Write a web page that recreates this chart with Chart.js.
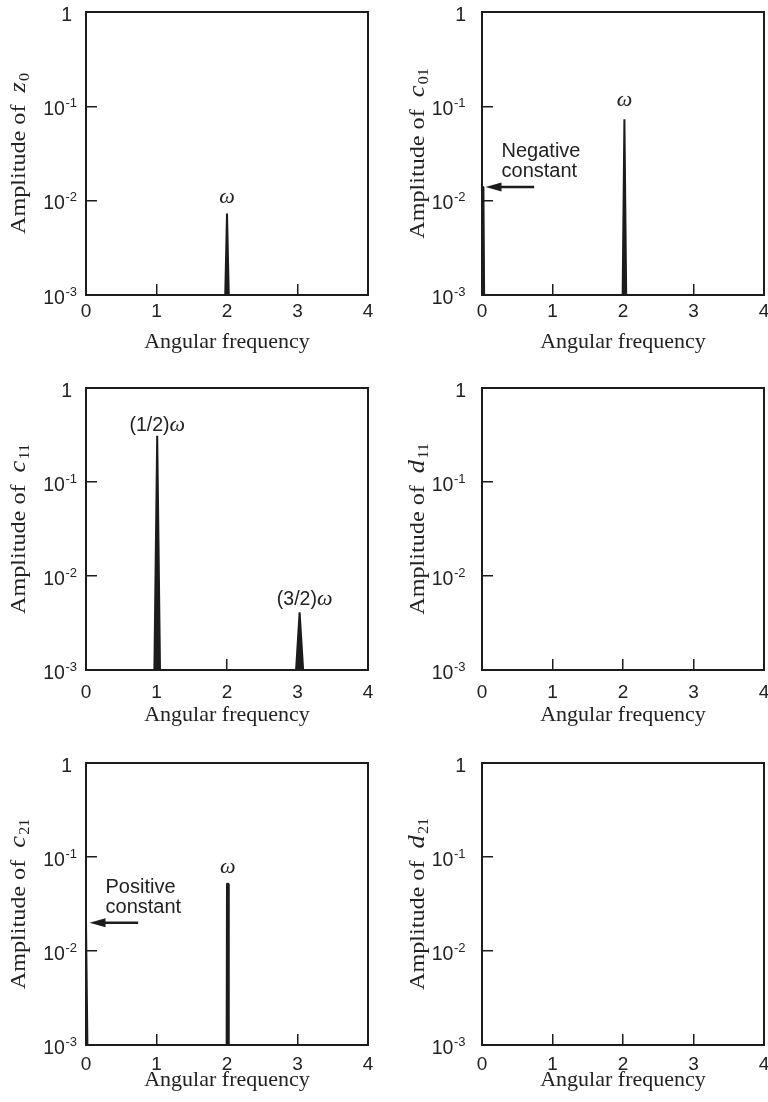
<!DOCTYPE html>
<html>
<head>
<meta charset="utf-8">
<script src="https://cdn.jsdelivr.net/npm/chart.js@4.4.1/dist/chart.umd.min.js"></script>
<style>
  body { margin: 0; background: #fff; width: 768px; height: 1102px; position: relative; overflow: hidden; }
  canvas { position: absolute; }
</style>
</head>
<body>
<canvas id="p0"></canvas>
<canvas id="p1"></canvas>
<canvas id="p2"></canvas>
<canvas id="p3"></canvas>
<canvas id="p4"></canvas>
<canvas id="p5"></canvas>
<script>
const xTickValues = [0, 1, 2, 3, 4];
const yTickValues = [0.001, 0.01, 0.1, 1];
const xAxisTitle = 'Angular frequency';

// spectra (floor of the plot is 1e-3)
const z0Freq = [0, 1.975, 2.0, 2.025, 4];
const z0Amp = [0.001, 0.001, 0.0073, 0.001, 0.001];

const c01Freq = [0, 0.02, 0.03, 1.995, 2.02, 2.045, 4];
const c01Amp = [0.014, 0.014, 0.001, 0.001, 0.073, 0.001, 0.001];

const c11Freq = [0, 0.97, 1.01, 1.05, 2.98, 3.03, 3.08, 4];
const c11Amp = [0.001, 0.001, 0.31, 0.001, 0.001, 0.0041, 0.001, 0.001];

const d11Freq = [];
const d11Amp = [];

const c21Freq = [0, 0.01, 0.02, 1.995, 2.0, 2.02, 2.025, 4];
const c21Amp = [0.02, 0.02, 0.001, 0.001, 0.052, 0.052, 0.001, 0.001];

const d21Freq = [];
const d21Amp = [];

const INK = '#1c1c1c';
const TEXT = '#222';
const SANS = '"Liberation Sans", Arial, Helvetica, sans-serif';
const SERIF = '"Liberation Serif", "Times New Roman", serif';

const rows = [
  { top: 0, h: 376, plotBottom: 295, xLabelPad: 18.5, titlePad: 22.5 },
  { top: 376, h: 375, plotBottom: 294, xLabelPad: 24, titlePad: 25 },
  { top: 751, h: 351, plotBottom: 294, xLabelPad: 21, titlePad: 10.5 }
];
const cols = [
  { left: 0, yWidth: 86, padRight: 16, titleX: 25, labelGap: 9, oneGap: 14 },
  { left: 384, yWidth: 98, padRight: 4, titleX: 40, labelGap: 16.5, oneGap: 16 }
];

const panels = [
  { row: 0, col: 0, sym: 'z', sub: '0', freq: z0Freq, amp: z0Amp,
    notes: [{ kind: 'peak', pre: '', x: 2.0, y: 0.0073, dx: 0, dy: 11 }] },
  { row: 0, col: 1, sym: 'c', sub: '01', freq: c01Freq, amp: c01Amp,
    notes: [{ kind: 'peak', pre: '', x: 2.02, y: 0.073, dx: 0, dy: 13 },
            { kind: 'arrow', from: 0.74, to: 0.05, y: 0.014, lines: ['Negative', 'constant'] }] },
  { row: 1, col: 0, sym: 'c', sub: '11', freq: c11Freq, amp: c11Amp,
    notes: [{ kind: 'peak', pre: '(1/2)', x: 1.01, y: 0.31, dx: 0, dy: 5 },
            { kind: 'peak', pre: '(3/2)', x: 3.03, y: 0.0041, dx: 5, dy: 7 }] },
  { row: 1, col: 1, sym: 'd', sub: '11', freq: d11Freq, amp: d11Amp, notes: [] },
  { row: 2, col: 0, sym: 'c', sub: '21', freq: c21Freq, amp: c21Amp,
    notes: [{ kind: 'peak', pre: '', x: 2.01, y: 0.052, dx: 0, dy: 11 },
            { kind: 'arrow', from: 0.74, to: 0.05, y: 0.02, lines: ['Positive', 'constant'] }] },
  { row: 2, col: 1, sym: 'd', sub: '21', freq: d21Freq, amp: d21Amp, notes: [] }
];

// box round the plot area
const framePlugin = {
  id: 'frame',
  afterDatasetsDraw(chart) {
    const { ctx, chartArea: a } = chart;
    ctx.save();
    ctx.strokeStyle = INK;
    ctx.lineWidth = 2;
    ctx.strokeRect(a.left, a.top, a.right - a.left, a.bottom - a.top);
    ctx.restore();
  }
};

// y tick labels as 10 with a raised exponent
function drawYLabels(chart, col) {
  const ctx = chart.ctx;
  const ys = chart.scales.y;
  const axisX = chart.chartArea.left;
  const baseFont = '19.5px ' + SANS;
  const supFont = '13px ' + SANS;
  ctx.save();
  ctx.fillStyle = TEXT;
  ctx.textAlign = 'left';
  ctx.textBaseline = 'alphabetic';
  ys.ticks.forEach(t => {
    const py = ys.getPixelForValue(t.value);
    const exp = Math.round(Math.log10(t.value));
    ctx.font = baseFont;
    if (exp === 0) {
      const w = ctx.measureText('1').width;
      ctx.fillText('1', axisX - col.oneGap - w, py + 9);
      return;
    }
    const wb = ctx.measureText('10').width;
    ctx.font = supFont;
    const sup = String(exp);
    const ws = ctx.measureText(sup).width;
    const x0 = axisX - col.labelGap - ws - 0.5 - wb;
    ctx.fillText(sup, x0 + wb + 0.5, py + 0.5);
    ctx.font = baseFont;
    ctx.fillText('10', x0, py + 8.5);
  });
  ctx.restore();
}

// rotated "Amplitude of c_nm" with italic symbol and subscript
function drawYTitle(chart, p, col) {
  const ctx = chart.ctx;
  const a = chart.chartArea;
  const cy = (a.top + a.bottom) / 2;
  const stretch = 1.15;
  const mainFont = '21px ' + SERIF;
  const symFont = 'italic 23px ' + SERIF;
  const subFont = '14px ' + SERIF;
  const lead = 'Amplitude of  ';
  ctx.save();
  ctx.font = mainFont;
  const w1 = ctx.measureText(lead).width;
  ctx.font = symFont;
  const w2 = ctx.measureText(p.sym).width;
  ctx.font = subFont;
  const w3 = ctx.measureText(p.sub).width;
  const total = w1 + w2 + 1 + w3;
  ctx.translate(col.titleX, cy);
  ctx.rotate(-Math.PI / 2);
  ctx.scale(stretch, 1);
  ctx.fillStyle = TEXT;
  ctx.textAlign = 'left';
  ctx.textBaseline = 'alphabetic';
  let x = -total / 2;
  ctx.font = mainFont;
  ctx.fillText(lead, x, 0);
  x += w1;
  ctx.font = symFont;
  ctx.fillText(p.sym, x, 0);
  x += w2 + 1;
  ctx.font = subFont;
  ctx.fillText(p.sub, x, 4);
  ctx.restore();
}

function drawNotes(chart, p) {
  const ctx = chart.ctx;
  const xs = chart.scales.x;
  const ys = chart.scales.y;
  ctx.save();
  ctx.fillStyle = TEXT;
  ctx.strokeStyle = INK;
  ctx.textBaseline = 'alphabetic';
  ctx.textAlign = 'left';
  p.notes.forEach(n => {
    if (n.kind === 'peak') {
      const px = xs.getPixelForValue(n.x) + n.dx;
      const py = ys.getPixelForValue(n.y) - n.dy;
      const preFont = '19.5px ' + SANS;
      const omFont = 'italic 22px ' + SERIF;
      ctx.font = preFont;
      const w1 = n.pre ? ctx.measureText(n.pre).width : 0;
      ctx.font = omFont;
      const w2 = ctx.measureText('ω').width;
      let x = px - (w1 + w2) / 2;
      if (n.pre) {
        ctx.font = preFont;
        ctx.fillText(n.pre, x, py);
        x += w1;
      }
      ctx.font = omFont;
      ctx.fillText('ω', x, py);
    } else if (n.kind === 'arrow') {
      const x1 = xs.getPixelForValue(n.from);
      const x2 = xs.getPixelForValue(n.to);
      const py = ys.getPixelForValue(n.y);
      const head = 16;
      ctx.lineWidth = 2.5;
      ctx.beginPath();
      ctx.moveTo(x1, py);
      ctx.lineTo(x2 + head - 2, py);
      ctx.stroke();
      ctx.fillStyle = INK;
      ctx.beginPath();
      ctx.moveTo(x2, py);
      ctx.lineTo(x2 + head, py - 4.5);
      ctx.lineTo(x2 + head, py + 4.5);
      ctx.closePath();
      ctx.fill();
      ctx.fillStyle = TEXT;
      ctx.font = '20px ' + SANS;
      ctx.fillText(n.lines[0], x2 + 16, py - 30);
      ctx.fillText(n.lines[1], x2 + 16, py - 10);
    }
  });
  ctx.restore();
}

panels.forEach((p, i) => {
  const row = rows[p.row];
  const col = cols[p.col];
  const canvas = document.getElementById('p' + i);
  canvas.width = 384;
  canvas.height = row.h;
  canvas.style.left = col.left + 'px';
  canvas.style.top = row.top + 'px';

  const points = p.freq.map((f, k) => ({ x: f, y: p.amp[k] }));

  new Chart(canvas, {
    type: 'line',
    data: {
      datasets: [{
        data: points,
        borderColor: INK,
        backgroundColor: INK,
        borderWidth: 2,
        borderJoinStyle: 'bevel',
        fill: 'start',
        pointRadius: 0,
        tension: 0
      }]
    },
    options: {
      responsive: false,
      animation: false,
      devicePixelRatio: 1,
      layout: { padding: { top: 12, right: col.padRight, bottom: 0, left: 0 } },
      plugins: { legend: { display: false }, tooltip: { enabled: false } },
      scales: {
        x: {
          type: 'linear',
          min: 0,
          max: 4,
          afterBuildTicks: s => { s.ticks = xTickValues.map(v => ({ value: v })); },
          afterFit: s => { s.height = row.h - row.plotBottom; s.paddingLeft = 0; s.paddingRight = 0; },
          border: { display: false },
          grid: { drawOnChartArea: false, drawTicks: true, tickLength: -11, color: INK, lineWidth: 1.5 },
          ticks: { color: TEXT, font: { family: SANS, size: 19, lineHeight: 1 }, padding: row.xLabelPad, maxRotation: 0, autoSkip: false },
          title: {
            display: true,
            text: xAxisTitle,
            color: TEXT,
            font: { family: SERIF, size: 22, lineHeight: 1 },
            padding: { top: 0, bottom: row.titlePad }
          }
        },
        y: {
          type: 'logarithmic',
          min: 0.001,
          max: 1,
          afterBuildTicks: s => { s.ticks = yTickValues.map(v => ({ value: v })); },
          afterFit: s => { s.width = col.yWidth; },
          border: { display: false },
          grid: { drawOnChartArea: false, drawTicks: true, tickLength: -11, color: INK, lineWidth: 1.5 },
          ticks: { display: false }
        }
      }
    },
    plugins: [framePlugin, {
      id: 'texts',
      afterDraw(chart) {
        drawYLabels(chart, col);
        drawYTitle(chart, p, col);
        drawNotes(chart, p);
      }
    }]
  });
});
</script>
</body>
</html>
